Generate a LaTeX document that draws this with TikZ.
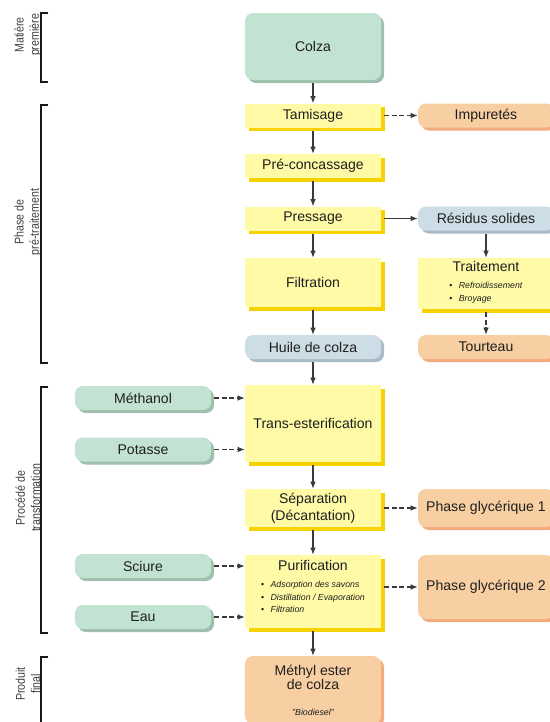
\documentclass[tikz,border=0pt]{standalone}
\usepackage{fontspec}
\setmainfont{Liberation Sans}
\newfontfamily\etroite[FakeStretch=0.84]{Liberation Sans}
\usetikzlibrary{arrows.meta,shadows}

\definecolor{jaune}{HTML}{FFFAA6}
\definecolor{jauneombre}{HTML}{F6D200}
\definecolor{vert}{HTML}{C2E2D2}
\definecolor{vertombre}{HTML}{A0BFAF}
\definecolor{bleu}{HTML}{CCDDE6}
\definecolor{bleuombre}{HTML}{A7BBC8}
\definecolor{peche}{HTML}{F7CFA3}
\definecolor{pecheombre}{HTML}{F1AB7C}
\definecolor{trait}{HTML}{3A3A3A}

\newcommand{\puce}[1]{\textbullet\hspace{5.5pt}\textit{#1}}

\begin{document}
\begin{tikzpicture}[x=0.03cm,y=-0.03cm,
    font=\fontsize{12}{14.5}\selectfont,text=black!88,
    boite/.style={minimum width=4.08cm,minimum height=0.72cm,inner sep=2pt,align=center},
    arrondi/.style={boite,rounded corners=0.24cm},
    pointille/.style={dash pattern=on 4pt off 2.5pt},
    accolade/.style={draw=black!90,line width=1.7pt}]

  \useasboundingbox (0,0) rectangle (549,722);

  % etapes du procede
  \begin{scope}[every node/.style={boite,fill=jaune,
      general shadow={fill=jauneombre,shadow xshift=0.11cm,shadow yshift=-0.11cm}}]
    \node (tamisage)     at (313,115.5) {Tamisage};
    \node (concassage)   at (313,166)   {Pré-concassage};
    \node (pressage)     at (313,218.5) {Pressage};
    \node[minimum height=1.47cm] (filtration) at (313,282.5) {Filtration};
    \node[minimum height=1.53cm] (traitement) at (486,283.5)
      {Traitement\\{\fontsize{7.5}{10.8}\selectfont\begin{tabular}[t]{@{}l@{}}
        \puce{Refroidissement}\\ \puce{Broyage}\end{tabular}}};
    \node[minimum height=2.31cm] (trans) at (313,423.5) {Trans-esterification};
    \node[minimum height=1.14cm] (separation) at (313,508) {Séparation\\(Décantation)};
    \node[minimum height=2.19cm] (purification) at (313,591.5)
      {Purification\\{\fontsize{7.5}{10.6}\selectfont\begin{tabular}[t]{@{}l@{}}
        \puce{Adsorption des savons}\\ \puce{Distillation / Evaporation}\\
        \puce{Filtration}\end{tabular}}\\[4pt]};
  \end{scope}

  % matieres entrantes
  \begin{scope}[every node/.style={arrondi,fill=vert,
      general shadow={fill=vertombre,shadow xshift=0.09cm,shadow yshift=-0.09cm}}]
    \node[minimum height=2.01cm] (colza) at (313,46.5) {Colza};
    \node (methanol) at (143,398)   {Méthanol};
    \node (potasse)  at (143,449.5) {Potasse};
    \node (sciure)   at (143,566)   {Sciure};
    \node (eau)      at (143,617)   {Eau};
  \end{scope}

  % intermediaires
  \begin{scope}[every node/.style={arrondi,fill=bleu,
      general shadow={fill=bleuombre,shadow xshift=0.09cm,shadow yshift=-0.09cm}}]
    \node (residus) at (486,218.5) {Résidus solides};
    \node (huile)   at (313,347)   {Huile de colza};
  \end{scope}

  % produits et sous-produits
  \begin{scope}[every node/.style={arrondi,fill=peche,
      general shadow={fill=pecheombre,shadow xshift=0.09cm,shadow yshift=-0.09cm}}]
    \node (impuretes) at (486,115.5) {Impuretés};
    \node (tourteau)  at (486,347)   {Tourteau};
    \node[minimum height=1.14cm] (glyc1) at (486,508) {Phase glycérique 1};
    \node[minimum height=1.92cm] (glyc2) at (486,587) {Phase glycérique 2};
    \node[minimum height=2.04cm] (biodiesel) at (313,690)
      {Méthyl ester\\[-2pt]de colza\\[7pt]{\fontsize{7.5}{9}\selectfont\itshape "Biodiesel"}};
  \end{scope}

  % fleches
  \begin{scope}[every edge/.style={draw=trait,line width=1pt,shorten <=0.09cm,
      -{Latex[length=6pt,width=4.8pt]}}]
    \path (colza)        edge (tamisage);
    \path (tamisage)     edge (concassage);
    \path (concassage)   edge (pressage);
    \path (pressage)     edge (filtration);
    \path (filtration)   edge (huile);
    \path (huile)        edge (trans);
    \path (trans)        edge (separation);
    \path (separation)   edge (purification);
    \path (purification) edge (biodiesel);
    \path (pressage)     edge (residus);
    \path (residus)      edge (traitement);
    \path (tamisage)     edge[pointille] (impuretes);
    \path (traitement)   edge[pointille] (tourteau);
    \path (separation)   edge[pointille] (glyc1);
    \path (purification.east |- glyc2.west) edge[pointille] (glyc2.west);
    \path (methanol) edge[pointille] (methanol -| trans.west);
    \path (potasse)  edge[pointille] (potasse -| trans.west);
    \path (sciure)   edge[pointille] (sciure -| purification.west);
    \path (eau)      edge[pointille] (eau -| purification.west);
  \end{scope}

  % phases
  \begin{scope}[every node/.style={rotate=90,align=center,text=black!75,
      font=\etroite\fontsize{10.8}{13}\selectfont}]
    \node (lmatiere)   at (28,35)  {Matière\\première};
    \node (lpretrait)  at (28,222)   {Phase de\\pré-traitement};
    \node (lprocede)   at (28,498)   {Procédé de\\transformation};
    \node (lproduit)   at (28,684)   {Produit\\final};
  \end{scope}
  \draw[accolade] (48,13)  -| (41,82)  -- (48,82);
  \draw[accolade] (48,105) -| (41,363) -- (48,363);
  \draw[accolade] (48,387) -| (41,633) -- (48,633);
  \draw[accolade] (48,657) -| (41,730);

\end{tikzpicture}
\end{document}
